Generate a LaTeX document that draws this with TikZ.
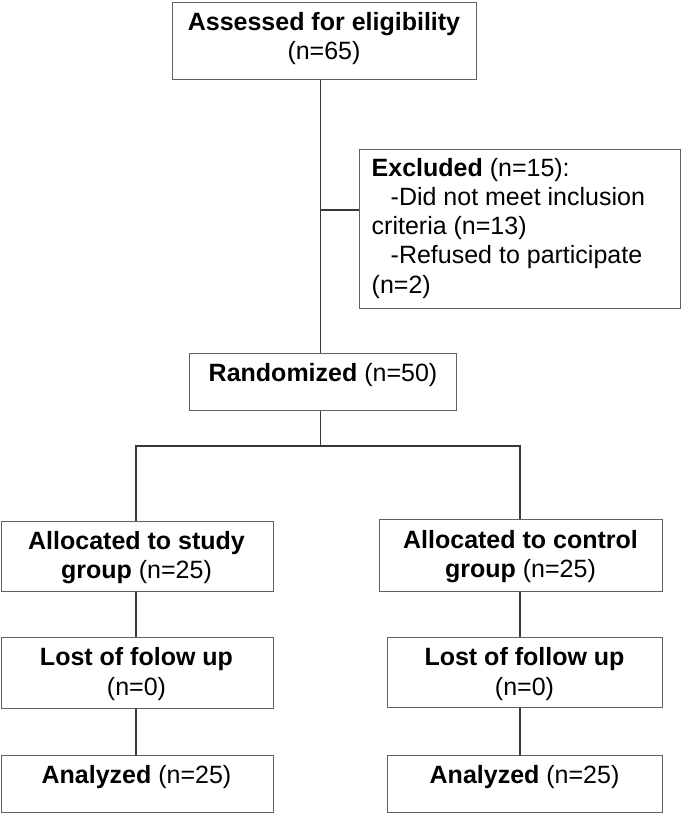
\documentclass[tikz,border=0pt]{standalone}
\usepackage{fontspec}
\setmainfont{Liberation Sans}
\usetikzlibrary{calc}
\definecolor{boxcol}{gray}{0.38}
\definecolor{linecol}{gray}{0.22}
\begin{document}
\begin{tikzpicture}[x=1pt,y=-1pt,
  boxnode/.style={draw=boxcol,line width=1.3pt,rectangle,inner sep=0pt},
  txt/.style={inner sep=0pt,anchor=base,font=\fontsize{25}{29.3}\selectfont},
  conn/.style={draw=linecol,line width=1.3pt}]
\useasboundingbox (0,0) rectangle (685,813);
\fill[white] (0,0) rectangle (685,813);
% boxes
\node[boxnode,minimum width=304pt,minimum height=77pt,anchor=north west] (assess) at (172,2) {};
\node[boxnode,minimum width=321pt,minimum height=159pt,anchor=north west] (excl) at (359,149) {};
\node[boxnode,minimum width=267pt,minimum height=57pt,anchor=north west] (rand) at (189,353) {};
\node[boxnode,minimum width=272pt,minimum height=70pt,anchor=north west] (allocL) at (0.7,521) {};
\node[boxnode,minimum width=283pt,minimum height=72pt,anchor=north west] (allocR) at (379,519) {};
\node[boxnode,minimum width=272pt,minimum height=71.3pt,anchor=north west] (lostL) at (0.7,636.7) {};
\node[boxnode,minimum width=275pt,minimum height=70.3pt,anchor=north west] (lostR) at (387,636.7) {};
\node[boxnode,minimum width=272pt,minimum height=57.3pt,anchor=north west] (anaL) at (0.7,755) {};
\node[boxnode,minimum width=275pt,minimum height=57.3pt,anchor=north west] (anaR) at (387,755) {};
% texts
\node[txt] (assessT) at (324,30.5) {\begin{tabular}[t]{@{}c@{}}\textbf{Assessed for eligibility}\\(n=65)\end{tabular}};
\node[txt,anchor=base west] (exclT) at (371.5,176) {\begin{tabular}[t]{@{}l@{}}\textbf{Excluded} (n=15):\\\hspace*{19pt}-Did not meet inclusion\\criteria (n=13)\\\hspace*{19pt}-Refused to participate\\(n=2)\end{tabular}};
\node[txt] (randT) at (323,381) {\textbf{Randomized} (n=50)};
\node[txt] (allocLT) at (136.5,549) {\begin{tabular}[t]{@{}c@{}}\textbf{Allocated to study}\\\textbf{group} (n=25)\end{tabular}};
\node[txt] (allocRT) at (520.5,548) {\begin{tabular}[t]{@{}c@{}}\textbf{Allocated to control}\\\textbf{group} (n=25)\end{tabular}};
\node[txt] (lostLT) at (136.5,665.7) {\begin{tabular}[t]{@{}c@{}}\textbf{Lost of folow up}\\(n=0)\end{tabular}};
\node[txt] (lostRT) at (524.5,665.7) {\begin{tabular}[t]{@{}c@{}}\textbf{Lost of follow up}\\(n=0)\end{tabular}};
\node[txt] (anaLT) at (136.5,783) {\textbf{Analyzed} (n=25)};
\node[txt] (anaRT) at (524.5,783) {\textbf{Analyzed} (n=25)};
% connectors
\coordinate (trunk) at (320.5,0);
\coordinate (exj) at (320.5,210);
\coordinate (split) at (320.5,446);
\coordinate (colL) at (136,0);
\coordinate (colR) at (520,0);
\draw[conn] (assess.south -| trunk) -- (rand.north -| trunk);
\draw[conn] (exj) -- (exj -| excl.west);
\draw[conn] (rand.south -| trunk) -- (split);
\draw[conn] (allocL.north -| colL) |- (split) -| (allocR.north -| colR);
\draw[conn] (allocL.south -| colL) -- (lostL.north -| colL);
\draw[conn] (lostL.south -| colL) -- (anaL.north -| colL);
\draw[conn] (allocR.south -| colR) -- (lostR.north -| colR);
\draw[conn] (lostR.south -| colR) -- (anaR.north -| colR);
\end{tikzpicture}
\end{document}
